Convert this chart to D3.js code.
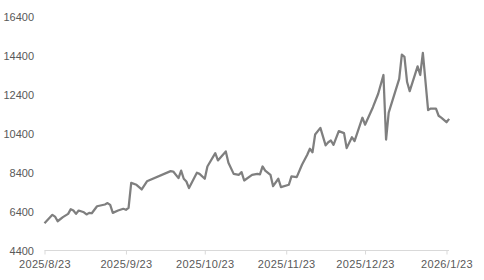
<!DOCTYPE html>
<html>
<head>
<meta charset="utf-8">
<script src="https://cdn.jsdelivr.net/npm/d3@7"></script>
<style>
  body { margin: 0; background: #fff; }
  svg { display: block; }
  .tick text { font-family: "Liberation Sans", Arial, sans-serif; font-size: 11px; fill: #595959; }
</style>
</head>
<body>
<svg width="484" height="280"></svg>
<script>
// dates and values
const dates = [
  "2025-08-23","2025-08-26","2025-08-27","2025-08-28","2025-08-30","2025-09-01","2025-09-02","2025-09-03",
  "2025-09-04","2025-09-05","2025-09-07","2025-09-08","2025-09-09","2025-09-10","2025-09-12","2025-09-15",
  "2025-09-16","2025-09-17","2025-09-18","2025-09-20","2025-09-22","2025-09-23","2025-09-24","2025-09-25",
  "2025-09-27","2025-09-29","2025-10-01","2025-10-10","2025-10-11","2025-10-13","2025-10-14","2025-10-15",
  "2025-10-16","2025-10-17","2025-10-20","2025-10-21","2025-10-23","2025-10-24","2025-10-27","2025-10-28",
  "2025-10-31","2025-11-01","2025-11-03","2025-11-05","2025-11-06","2025-11-07","2025-11-10","2025-11-12",
  "2025-11-13","2025-11-14","2025-11-15","2025-11-17","2025-11-18","2025-11-20","2025-11-21","2025-11-24",
  "2025-11-25","2025-11-27","2025-11-29","2025-12-01","2025-12-02","2025-12-03","2025-12-04","2025-12-06",
  "2025-12-08","2025-12-09","2025-12-10","2025-12-11","2025-12-13","2025-12-15","2025-12-16","2025-12-18",
  "2025-12-19","2025-12-22","2025-12-23","2025-12-26","2025-12-28","2025-12-30","2025-12-31","2026-01-01",
  "2026-01-05","2026-01-06","2026-01-07","2026-01-08","2026-01-09","2026-01-12","2026-01-13","2026-01-14",
  "2026-01-16","2026-01-17","2026-01-19","2026-01-20","2026-01-21","2026-01-23","2026-01-24"
];
const values = [
  5800, 6230, 6140, 5900, 6110, 6280, 6520, 6450,
  6280, 6450, 6360, 6250, 6330, 6310, 6670, 6760,
  6830, 6740, 6330, 6450, 6540, 6490, 6590, 7870,
  7770, 7530, 7950, 8470, 8450, 8110, 8500, 8080,
  7940, 7600, 8390, 8330, 8080, 8710, 9390, 9020,
  9480, 8900, 8330, 8280, 8420, 7990, 8280, 8330,
  8300, 8710, 8500, 8280, 7700, 8080, 7650, 7770,
  8200, 8160, 8800, 9310, 9620, 9440, 10350, 10690,
  9790, 9950, 10040, 9820, 10520, 10420, 9650, 10210,
  10010, 11210, 10850, 11750, 12440, 13400, 10090, 11470,
  13200, 14450, 14330, 13040, 12570, 13840, 13400, 14540,
  11600, 11680, 11680, 11310, 11210, 10980, 11150
];
const xTicks = ["2025-08-23","2025-09-23","2025-10-23","2025-11-23","2025-12-23","2026-01-23"];
const yTicks = [4400, 6400, 8400, 10400, 12400, 14400, 16400];

const parse = d3.timeParse("%Y-%m-%d");
const fmt = d => `${d.getFullYear()}/${d.getMonth() + 1}/${d.getDate()}`;
const data = dates.map((d, i) => ({ date: parse(d), value: values[i] }));

const svg = d3.select("svg");

const x = d3.scaleTime()
  .domain([parse(xTicks[0]), parse(xTicks[xTicks.length - 1])])
  .range([44.5, 446.5]);

const y = d3.scaleLinear()
  .domain([4400, 16400])
  .range([250.5, 16.5]);

// x axis: light line, short ticks below
const xAxis = svg.append("g")
  .attr("transform", "translate(0,250.5)")
  .call(d3.axisBottom(x)
    .tickValues(xTicks.map(parse))
    .tickFormat(fmt)
    .tickSize(4)
    .tickPadding(6)
    .tickSizeOuter(0));
xAxis.select(".domain").attr("stroke", "#d9d9d9").attr("d", "M44.5,0H449");
xAxis.selectAll(".tick line").attr("stroke", "#d9d9d9");
xAxis.selectAll(".tick text").style("letter-spacing", "0.35px");

// y axis: labels only, no thousands separator
const yAxis = svg.append("g")
  .attr("transform", "translate(34,0)")
  .call(d3.axisLeft(y).tickValues(yTicks).tickFormat(d3.format("d")).tickSize(0).tickPadding(0));
yAxis.select(".domain").remove();

const line = d3.line()
  .x(d => x(d.date))
  .y(d => y(d.value));

svg.append("path")
  .datum(data)
  .attr("fill", "none")
  .attr("stroke", "#7f7f7f")
  .attr("stroke-width", 2.25)
  .attr("stroke-linejoin", "round")
  .attr("d", line);
</script>
</body>
</html>
